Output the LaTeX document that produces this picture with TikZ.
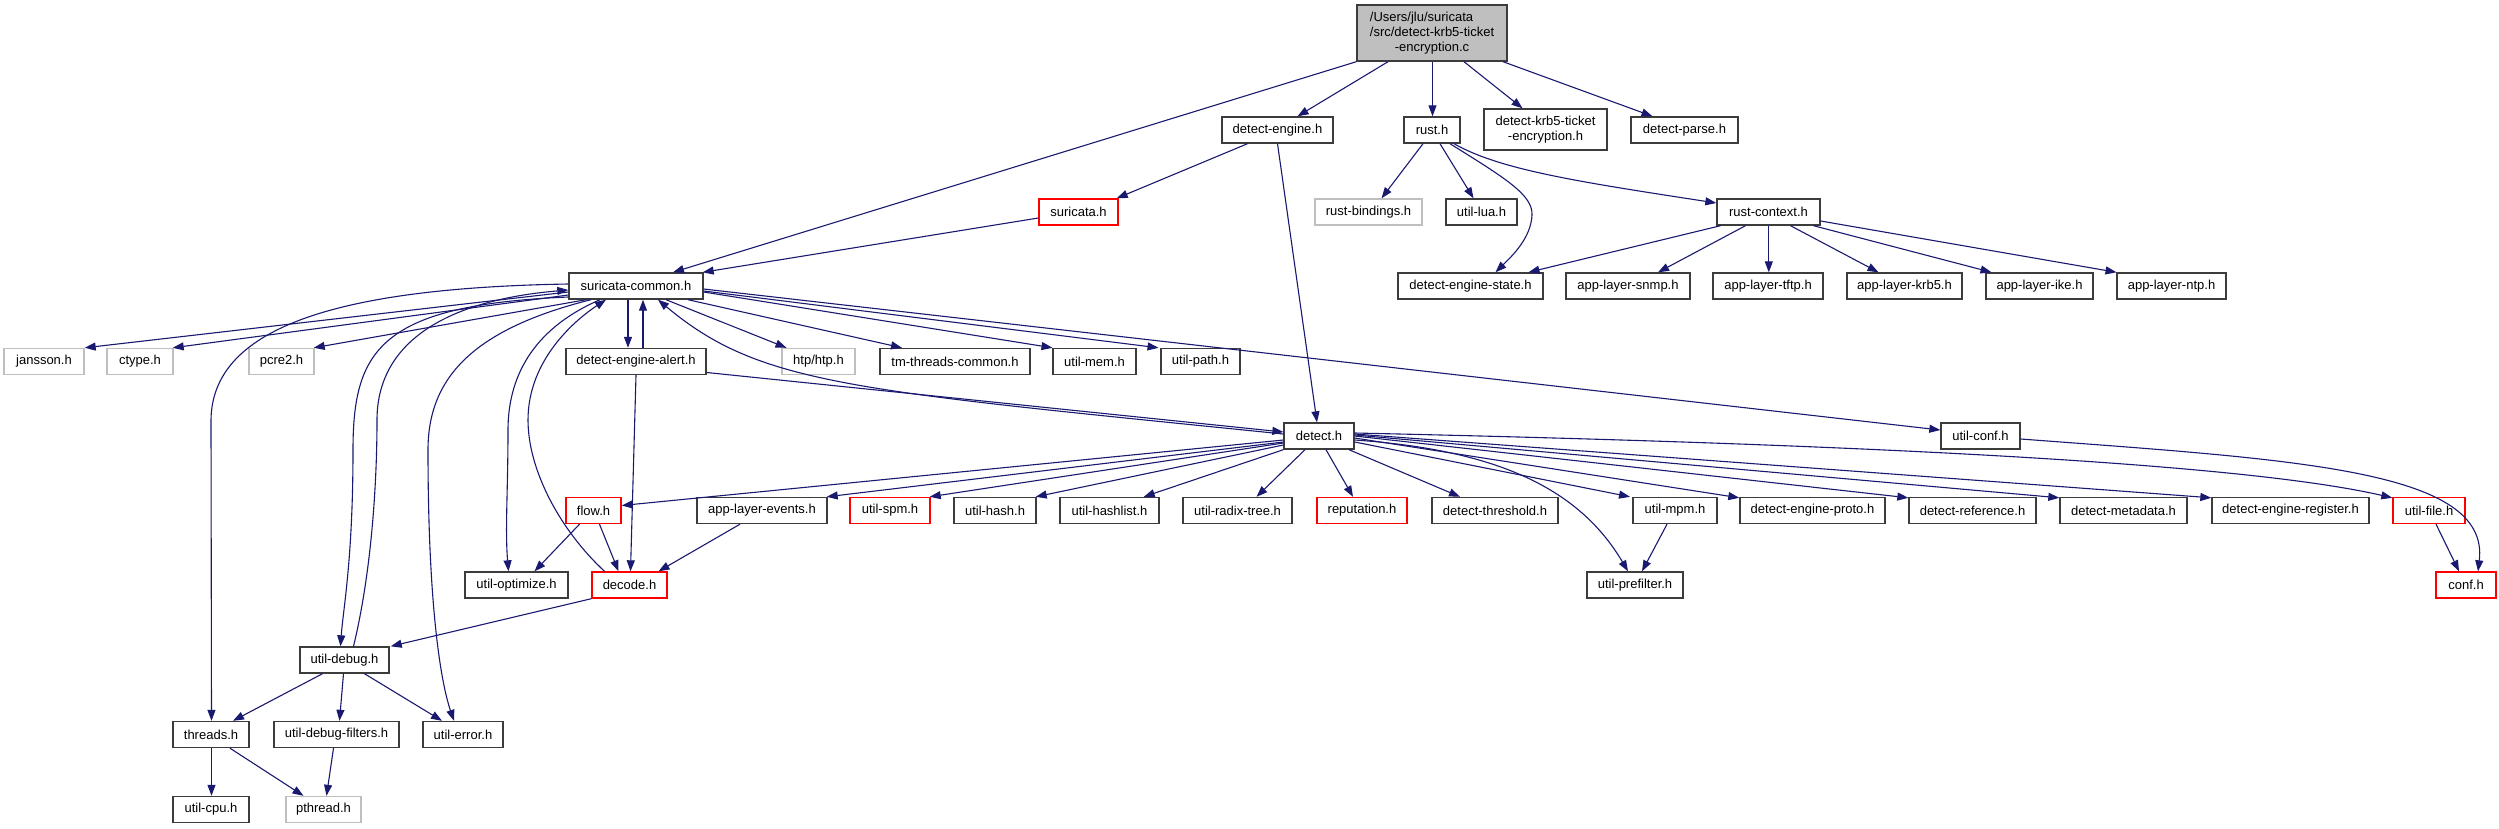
\documentclass[tikz,border=0pt]{standalone}
\usepackage{fontspec}
\setmainfont{Liberation Sans}
\usetikzlibrary{arrows.meta}
\definecolor{edgeblue}{HTML}{191970}
\definecolor{ndgray}{HTML}{3C3C3C}
\definecolor{lightgr}{HTML}{BFBFBF}
\definecolor{ndred}{HTML}{FF0000}
\tikzset{
  nd/.style={draw=ndgray, line width=1.4pt, fill=white, minimum height=26pt, inner sep=0pt, align=center, font=\fontsize{13}{14.7}\selectfont},
  gr/.style={nd, draw=lightgr},
  rd/.style={nd, draw=ndred},
  edg/.style={draw=edgeblue, line width=1.1pt, -{Triangle[length=11pt,width=8pt]}}
}
\begin{document}
\begin{tikzpicture}[x=1pt,y=-1pt]
\path[use as bounding box] (0,0) rectangle (2499,828);
% nodes
\node[nd, fill=lightgr, minimum width=150pt, minimum height=56pt] (main) at (1432,33) {\rlap{/Users/jlu/suricata}\phantom{/src/detect-krb5-ticket}\\/src/detect-krb5-ticket\\-encryption.c};
\node[nd, minimum width=111pt] (de) at (1277.5,130) {detect-engine.h};
\node[nd, minimum width=56pt] (rust) at (1432,130) {rust.h};
\node[nd, minimum width=123pt, minimum height=41pt] (krb) at (1545.5,129.5) {detect-krb5-ticket\\-encryption.h};
\node[nd, minimum width=107pt] (dp) at (1684.5,130) {detect-parse.h};
\node[rd, minimum width=79pt] (su) at (1078.5,212) {suricata.h};
\node[gr, minimum width=107pt] (rb) at (1368.5,212) {rust-bindings.h};
\node[nd, minimum width=71pt] (ul) at (1481.5,212) {util-lua.h};
\node[nd, minimum width=103pt] (rc) at (1768.5,212) {rust-context.h};
\node[nd, minimum width=134pt] (sc) at (636,286) {suricata-common.h};
\node[nd, minimum width=145pt] (des) at (1470.5,286) {detect-engine-state.h};
\node[nd, minimum width=124pt] (snmp) at (1628,286) {app-layer-snmp.h};
\node[nd, minimum width=110pt] (tftp) at (1768,286) {app-layer-tftp.h};
\node[nd, minimum width=115pt] (akrb) at (1904.5,286) {app-layer-krb5.h};
\node[nd, minimum width=107pt] (ike) at (2039.5,286) {app-layer-ike.h};
\node[nd, minimum width=109pt] (ntp) at (2171.5,286) {app-layer-ntp.h};
\node[gr, minimum width=80pt] (jan) at (44,361.5) {jansson.h};
\node[gr, minimum width=66pt] (ct) at (140,361.5) {ctype.h};
\node[gr, minimum width=65pt] (pc) at (281.5,361.5) {pcre2.h};
\node[nd, minimum width=140pt] (dea) at (636,361.5) {detect-engine-alert.h};
\node[gr, minimum width=73pt] (htp) at (818.5,361.5) {htp/htp.h};
\node[nd, minimum width=150pt] (tm) at (955,361.5) {tm-threads-common.h};
\node[nd, minimum width=83pt] (mem) at (1094.5,361.5) {util-mem.h};
\node[nd, minimum width=79pt] (path) at (1200.5,361.5) {util-path.h};
\node[nd, minimum width=70pt] (det) at (1319,436) {detect.h};
\node[nd, minimum width=79pt] (uconf) at (1980.5,436) {util-conf.h};
\node[rd, minimum width=55pt] (flow) at (593.5,510.5) {flow.h};
\node[nd, minimum width=130pt] (ale) at (762,510.5) {app-layer-events.h};
\node[rd, minimum width=80pt] (spm) at (890,510.5) {util-spm.h};
\node[nd, minimum width=82pt] (hash) at (995,510.5) {util-hash.h};
\node[nd, minimum width=99pt] (hl) at (1109.5,510.5) {util-hashlist.h};
\node[nd, minimum width=109pt] (radix) at (1237.5,510.5) {util-radix-tree.h};
\node[rd, minimum width=90pt] (rep) at (1362,510.5) {reputation.h};
\node[nd, minimum width=126pt] (thr) at (1495,510.5) {detect-threshold.h};
\node[nd, minimum width=84pt] (mpm) at (1675,510.5) {util-mpm.h};
\node[nd, minimum width=145pt] (proto) at (1812.5,510.5) {detect-engine-proto.h};
\node[nd, minimum width=127pt] (ref) at (1972.5,510.5) {detect-reference.h};
\node[nd, minimum width=127pt] (meta) at (2123.5,510.5) {detect-metadata.h};
\node[nd, minimum width=157pt] (reg) at (2290.5,510.5) {detect-engine-register.h};
\node[rd, minimum width=72pt] (ufile) at (2429,510.5) {util-file.h};
\node[nd, minimum width=103pt] (opt) at (516.5,585) {util-optimize.h};
\node[rd, minimum width=75pt] (dec) at (629.5,585) {decode.h};
\node[nd, minimum width=96pt] (pref) at (1635,585) {util-prefilter.h};
\node[rd, minimum width=60pt] (conf) at (2466,585) {conf.h};
\node[nd, minimum width=89pt] (dbg) at (344.5,660) {util-debug.h};
\node[nd, minimum width=76pt] (threads) at (211,734.5) {threads.h};
\node[nd, minimum width=125pt] (dbgf) at (336.5,734.5) {util-debug-filters.h};
\node[nd, minimum width=80pt] (err) at (463,734.5) {util-error.h};
\node[nd, minimum width=76pt] (cpu) at (211,809.5) {util-cpu.h};
\node[gr, minimum width=75pt] (pth) at (323.5,809.5) {pthread.h};
% edges from main
\draw[edg] (main.south west) -- ([xshift=37pt]sc.north);
\draw[edg] ([xshift=-44pt]main.south) -- ([xshift=20pt]de.north);
\draw[edg] ([xshift=0.5pt]main.south) -- ([xshift=0.5pt]rust.north);
\draw[edg] ([xshift=32pt]main.south) -- ([xshift=-23pt]krb.north);
\draw[edg] ([xshift=71pt]main.south) -- ([xshift=-32pt]dp.north);
% detect-engine, suricata
\draw[edg] ([xshift=-30pt]de.south) -- ([xshift=-2pt]su.north east);
\draw[edg] (de.south) -- ([xshift=-2pt]det.north);
\draw[edg] ([yshift=-6pt]su.west) -- ([xshift=-1pt]sc.north east);
% rust
\draw[edg] ([xshift=-9pt]rust.south) -- ([xshift=13pt]rb.north);
\draw[edg] ([xshift=8pt]rust.south) -- ([xshift=-8pt]ul.north);
\draw[edg] ([xshift=18pt]rust.south) .. controls (1505,178) and (1533,195) .. (1532,215) .. controls (1531,238) and (1512,256) .. ([xshift=25pt]des.north);
\draw[edg] ([xshift=22pt]rust.south) .. controls (1500,170) and (1580,182) .. ([yshift=9pt]rc.west);
% rust-context
\draw[edg] ([xshift=-48pt]rc.south) -- ([xshift=58pt]des.north);
\draw[edg] ([xshift=-23pt]rc.south) -- ([xshift=30pt]snmp.north);
\draw[edg] ([xshift=0.3pt]rc.south) -- ([xshift=0.8pt]tftp.north);
\draw[edg] ([xshift=22pt]rc.south) -- ([xshift=-26pt]akrb.north);
\draw[edg] ([xshift=45pt]rc.south) -- ([xshift=-48pt]ike.north);
\draw[edg] ([yshift=-9pt]rc.east) -- ([xshift=-55pt]ntp.north);
% suricata-common
\draw[edg] ([yshift=-6pt]sc.west) -- (jan.north east);
\draw[edg] ([yshift=-9pt]sc.west) -- ([xshift=-1pt]ct.north east);
\draw[edg] ([xshift=-50pt]sc.south) -- ([xshift=-1pt]pc.north east);
\draw[edg] ([xshift=-8pt]sc.south) -- ([xshift=-8pt]dea.north);
\draw[edg] ([xshift=7pt]dea.north) -- ([xshift=7pt]sc.south);
\draw[edg] ([xshift=30pt]sc.south) -- ([xshift=-32pt]htp.north);
\draw[edg] ([xshift=52pt]sc.south) -- ([xshift=-53pt]tm.north);
\draw[edg] ([yshift=-6pt]sc.east) -- ([xshift=-42pt]mem.north);
\draw[edg] ([yshift=-5pt]sc.east) -- ([xshift=-42pt]path.north);
\draw[edg] ([yshift=-3pt]sc.east) -- ([yshift=6pt]uconf.west);
\draw[edg] ([yshift=2pt]sc.west) .. controls (330,288) and (212,330) .. (211,420) -- ([xshift=0.5pt]threads.north);
\draw[edg] ([yshift=-11pt]sc.west) .. controls (380,305) and (353,350) .. (353,450) .. controls (353,560) and (343,610) .. ([xshift=-4pt]dbg.north);
\draw[edg] ([xshift=9pt]dbg.north) .. controls (372,570) and (377,480) .. (377,420) .. controls (377,340) and (450,300) .. ([yshift=-4pt]sc.west);
\draw[edg] ([xshift=-45pt]sc.south) .. controls (470,330) and (428,380) .. (428,450) .. controls (428,600) and (440,680) .. ([xshift=-9pt]err.north);
\draw[edg] ([xshift=-36pt]sc.south) .. controls (530,330) and (508,380) .. (508,430) .. controls (508,490) and (505,530) .. ([xshift=-8pt]opt.north);
\draw[edg] ([xshift=-25pt]dec.north) .. controls (560,530) and (528,470) .. (528,420) .. controls (528,360) and (575,320) .. ([xshift=-30pt]sc.south);
% detect-engine-alert
\draw[edg] (dea.south) -- ([xshift=1pt]dec.north);
\draw[edg] ([yshift=-11pt]dea.east) -- ([yshift=4pt]det.west);
% detect
\draw[edg] ([yshift=2pt]det.west) .. controls (850,390) and (760,385) .. ([xshift=22pt]sc.south);
\draw[edg] ([yshift=-4pt]det.west) -- ([yshift=5pt]flow.east);
\draw[edg] ([yshift=-6pt]det.west) -- ([xshift=-1pt]ale.north east);
\draw[edg] ([yshift=-7pt]det.west) -- ([xshift=-1pt]spm.north east);
\draw[edg] ([yshift=-9pt]det.west) -- ([xshift=-1pt]hash.north east);
\draw[edg] (det.south west) -- ([xshift=-16pt]hl.north east);
\draw[edg] ([xshift=-14pt]det.south) -- ([xshift=19pt]radix.north);
\draw[edg] ([xshift=7pt]det.south) -- ([xshift=-9pt]rep.north);
\draw[edg] ([xshift=30pt]det.south) -- ([xshift=-35pt]thr.north);
\draw[edg] ([yshift=-6pt]det.east) -- ([xshift=-45pt]mpm.north);
\draw[edg] ([yshift=-4pt]det.east) .. controls (1500,450) and (1580,490) .. ([xshift=-7pt]pref.north);
\draw[edg] ([yshift=-2pt]det.east) -- ([yshift=-1pt]proto.north west);
\draw[edg] (det.east) -- ([yshift=-1pt]ref.north west);
\draw[edg] ([yshift=1pt]det.east) -- ([yshift=-1pt]meta.north west);
\draw[edg] ([yshift=2pt]det.east) -- ([yshift=-1pt]reg.north west);
\draw[edg] ([yshift=3pt]det.east) .. controls (1900,445) and (2250,465) .. ([yshift=-1pt]ufile.north west);
% lower
\draw[edg] ([xshift=-8pt]mpm.south) -- ([xshift=7pt]pref.north);
\draw[edg] ([yshift=-3pt]uconf.east) .. controls (2300,460) and (2490,470) .. ([xshift=12pt]conf.north);
\draw[edg] ([xshift=7pt]ufile.south) -- ([xshift=-7pt]conf.north);
\draw[edg] ([xshift=-14pt]flow.south) -- ([xshift=18pt]opt.north);
\draw[edg] ([xshift=6pt]flow.south) -- ([xshift=-11pt]dec.north);
\draw[edg] ([xshift=-22pt]ale.south) -- ([xshift=29pt]dec.north);
\draw[edg] (dec.south west) -- ([xshift=1pt]dbg.north east);
\draw[edg] ([xshift=-22pt]dbg.south) -- ([xshift=22pt]threads.north);
\draw[edg] ([xshift=-1pt]dbg.south) -- ([xshift=3pt]dbgf.north);
\draw[edg] ([xshift=20pt]dbg.south) -- ([xshift=-21pt]err.north);
\draw[edg] ([xshift=0.5pt]threads.south) -- ([xshift=0.5pt]cpu.north);
\draw[edg] ([xshift=19pt]threads.south) -- ([xshift=-20pt]pth.north);
\draw[edg] ([xshift=-3pt]dbgf.south) -- ([xshift=3pt]pth.north);
\end{tikzpicture}
\end{document}
